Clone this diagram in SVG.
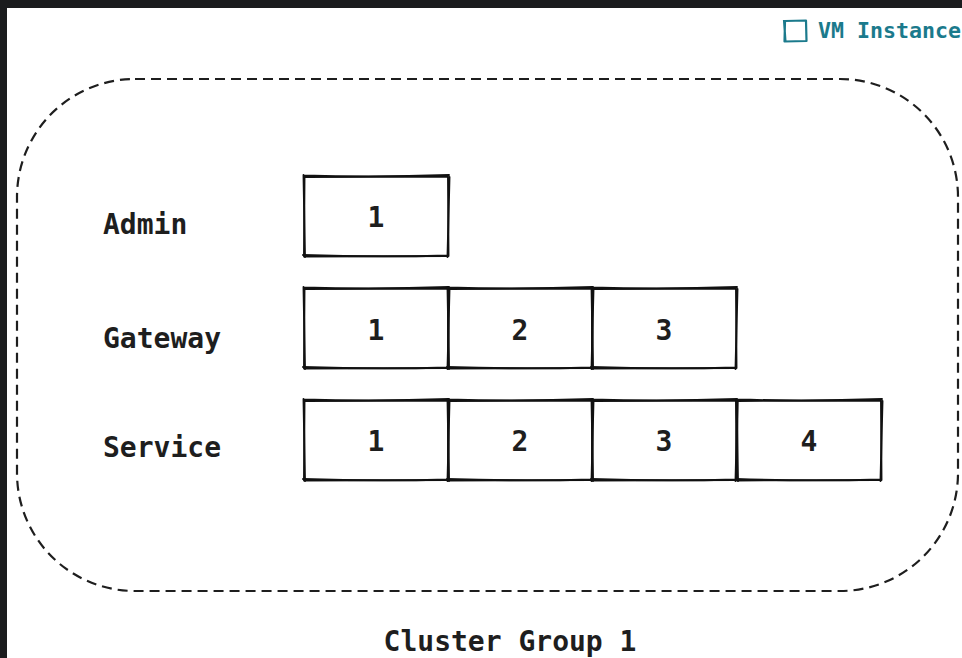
<svg xmlns="http://www.w3.org/2000/svg" width="962" height="658" viewBox="0 0 962 658">
  <style>
    .lbl { font-family: "DejaVu Sans Mono", "Liberation Mono", monospace; font-size: 28px; font-weight: bold; fill: #1e1e1e; }
    .num { font-family: "DejaVu Sans Mono", "Liberation Mono", monospace; font-size: 28px; font-weight: bold; fill: #1e1e1e; text-anchor: middle; }
    .sk { fill: none; stroke: #111111; stroke-width: 1.9; stroke-linecap: round; stroke-linejoin: round; }
    .legend { font-family: "DejaVu Sans Mono", "Liberation Mono", monospace; font-size: 21.6px; font-weight: bold; fill: #1b7a8c; }
  </style>
  <defs>
    <!-- one sketchy cell, 144 x 80 -->
    <g id="cell">
      <path class="sk" d="M0.5 1 L144 0.5 L144.5 80 L0 80.5 Z"/>
      <path class="sk" d="M-0.5 -0.5 Q72 1.5 145 -1 M145.5 1 L143.5 81 M144 79.5 Q72 81.5 -1 79 M1 81 L-0.5 -1"/>
    </g>
  </defs>

  <rect x="0" y="0" width="962" height="658" fill="#ffffff"/>
  <!-- window frame -->
  <rect x="0" y="0" width="962" height="8" fill="#1b1c1e"/>
  <rect x="0" y="0" width="7" height="658" fill="#1b1c1e"/>

  <!-- legend -->
  <g id="legend">
    <path d="M785 21 L806 20.5 L806.5 41 L784.5 41.5 Z M784 20 L785.5 42" fill="none" stroke="#1b7a8c" stroke-width="2.2" stroke-linejoin="round"/>
    <text class="legend" x="818" y="38">VM Instance</text>
  </g>

  <!-- cluster boundary -->
  <g id="cluster">
    <rect x="17" y="79" width="941" height="512" rx="118" ry="118" fill="none" stroke="#1e1e1e" stroke-width="2.2" stroke-dasharray="10 6"/>
    <text class="num" x="510" y="651">Cluster Group 1</text>
  </g>

  <!-- row labels -->
  <g id="labels">
    <text class="lbl" x="103" y="234">Admin</text>
    <text class="lbl" x="103" y="348">Gateway</text>
    <text class="lbl" x="103" y="457">Service</text>
  </g>

  <!-- admin row -->
  <g id="admin-1">
    <use href="#cell" x="304" y="176"/>
    <text class="num" x="376" y="227">1</text>
  </g>

  <!-- gateway row -->
  <g id="gateway-1">
    <use href="#cell" x="304" y="288"/>
    <text class="num" x="376" y="340">1</text>
  </g>
  <g id="gateway-2">
    <use href="#cell" x="448" y="288"/>
    <text class="num" x="520" y="340">2</text>
  </g>
  <g id="gateway-3">
    <use href="#cell" x="592" y="288"/>
    <text class="num" x="664" y="340">3</text>
  </g>

  <!-- service row -->
  <g id="service-1">
    <use href="#cell" x="304" y="400"/>
    <text class="num" x="376" y="451">1</text>
  </g>
  <g id="service-2">
    <use href="#cell" x="448" y="400"/>
    <text class="num" x="520" y="451">2</text>
  </g>
  <g id="service-3">
    <use href="#cell" x="592" y="400"/>
    <text class="num" x="664" y="451">3</text>
  </g>
  <g id="service-4">
    <use href="#cell" x="737" y="400"/>
    <text class="num" x="809" y="451">4</text>
  </g>

  <g id="connectors"/>
</svg>
